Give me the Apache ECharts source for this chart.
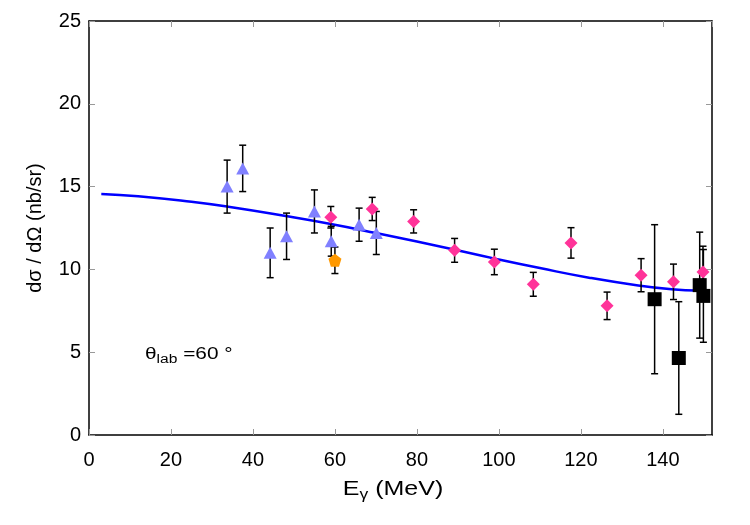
<!DOCTYPE html>
<html>
<head>
<meta charset="utf-8">
<script src="https://cdn.jsdelivr.net/npm/echarts@6.0.0/dist/echarts.min.js"></script>
<style>
  html, body { margin: 0; padding: 0; background: #fff; }
  #main { width: 750px; height: 525px; }
</style>
</head>
<body>
<div id="main"></div>
<script>
// triangles
var triX = [33.7, 37.5, 44.2, 48.2, 55.0, 59.1, 65.9, 70.1];
var triY = [15.0, 16.1, 11.0, 12.0, 13.5, 11.7, 12.7, 12.2];
var triErr = [1.6, 1.4, 1.5, 1.4, 1.3, 0.9, 1.0, 1.3];

// diamonds
var diaX = [59.0, 69.1, 79.2, 89.2, 98.9, 108.4, 117.6, 126.4, 134.7, 142.6, 149.8];
var diaY = [13.15, 13.65, 12.9, 11.15, 10.45, 9.1, 11.6, 7.8, 9.65, 9.25, 9.85];
var diaErr = [0.65, 0.7, 0.7, 0.72, 0.77, 0.72, 0.92, 0.83, 1.0, 1.07, 1.55];

// squares
var sqX = [138.0, 143.9, 149.0, 149.9];
var sqY = [8.2, 4.65, 9.05, 8.4];
var sqErr = [4.5, 3.4, 3.2, 2.8];

// pentagon
var pentX = [60.0];
var pentY = [10.55];
var pentErr = [0.8];

// fitted curve
var curveX = [3, 12, 25, 34, 48, 59, 70, 80, 89, 99, 110, 122, 134, 143, 148];
var curveY = [14.56, 14.42, 14.08, 13.78, 13.22, 12.74, 12.2, 11.68, 11.2, 10.65, 10.08, 9.5, 9.03, 8.78, 8.72];

var xTicks = [0, 20, 40, 60, 80, 100, 120, 140];
var yTicks = [0, 5, 10, 15, 20, 25];

function zip(xs, ys, es) {
  var out = [];
  for (var i = 0; i < xs.length; i++) {
    out.push(es ? [xs[i], ys[i], es[i]] : [xs[i], ys[i]]);
  }
  return out;
}

var font = 'Liberation Sans';

function errorBars(data) {
  return {
    type: 'custom',
    data: data,
    z: 3,
    renderItem: function (params, api) {
      var x = api.value(0), y = api.value(1), e = api.value(2);
      var top = api.coord([x, y + e]);
      var bot = api.coord([x, y - e]);
      var c = 3.5;
      var st = { stroke: '#000', lineWidth: 1.5 };
      return {
        type: 'group',
        children: [
          { type: 'line', shape: { x1: top[0], y1: top[1], x2: bot[0], y2: bot[1] }, style: st },
          { type: 'line', shape: { x1: top[0] - c, y1: top[1], x2: top[0] + c, y2: top[1] }, style: st },
          { type: 'line', shape: { x1: bot[0] - c, y1: bot[1], x2: bot[0] + c, y2: bot[1] }, style: st }
        ]
      };
    }
  };
}

function points(data, symbol, size, color) {
  return {
    type: 'scatter',
    data: data,
    symbol: symbol,
    symbolSize: size,
    itemStyle: { color: color, opacity: 1 },
    z: 4
  };
}

var tickStyle = { show: true, inside: true, length: 6, lineStyle: { color: '#999', width: 1 } };
var lineStyle = { show: true, onZero: false, lineStyle: { color: '#000', width: 1.5 } };

var chart = echarts.init(document.getElementById('main'));
var option = {
  animation: false,
  backgroundColor: '#fff',
  grid: { left: 89, right: 38, top: 21, bottom: 90 },
  xAxis: [
    {
      type: 'value', min: 0, max: 152, interval: 20, position: 'bottom',
      axisLine: lineStyle, axisTick: tickStyle, splitLine: { show: false },
      axisLabel: {
        margin: 15, fontSize: 20, fontFamily: font, color: '#000', showMaxLabel: false,
        formatter: function (v) { return xTicks.indexOf(v) >= 0 ? String(v) : ''; }
      }
    },
    {
      type: 'value', min: 0, max: 152, interval: 20, position: 'top',
      axisLine: lineStyle, axisTick: tickStyle, splitLine: { show: false },
      axisLabel: { show: false }
    }
  ],
  yAxis: [
    {
      type: 'value', min: 0, max: 25, interval: 5, position: 'left',
      axisLine: lineStyle, axisTick: tickStyle, splitLine: { show: false },
      axisLabel: {
        margin: 8, fontSize: 20, fontFamily: font, color: '#000',
        formatter: function (v) { return yTicks.indexOf(v) >= 0 ? String(v) : ''; }
      },
      name: 'dσ / dΩ (nb/sr)', nameLocation: 'middle', nameRotate: 90, nameGap: 44,
      nameTextStyle: { fontSize: 20, fontFamily: font, color: '#000' }
    },
    {
      type: 'value', min: 0, max: 25, interval: 5, position: 'right',
      axisLine: lineStyle, axisTick: tickStyle, splitLine: { show: false },
      axisLabel: { show: false }
    }
  ],
  graphic: [
    {
      type: 'text', x: 393, y: 489, scaleX: 1.25,
      style: {
        text: '{m|E}{s|γ}{m| (MeV)}', align: 'center', verticalAlign: 'middle',
        rich: {
          m: { fontSize: 20, fontFamily: font, fill: '#000' },
          s: { fontSize: 14, fontFamily: font, fill: '#000', padding: [12, 0, 0, 0] }
        }
      }
    },
    {
      type: 'text', x: 145, y: 355, scaleX: 1.3,
      style: {
        text: '{m|θ}{s|lab}{m| =60 °}', align: 'left', verticalAlign: 'middle',
        rich: {
          m: { fontSize: 16, fontFamily: font, fill: '#000' },
          s: { fontSize: 12, fontFamily: font, fill: '#000', padding: [9, 0, 0, 0] }
        }
      }
    }
  ],
  series: [
    {
      type: 'line', data: zip(curveX, curveY), smooth: true, showSymbol: false,
      lineStyle: { color: '#0000ff', width: 2.5 }, z: 2
    },
    errorBars(zip(triX, triY, triErr)),
    errorBars(zip(diaX, diaY, diaErr)),
    errorBars(zip(sqX, sqY, sqErr)),
    errorBars(zip(pentX, pentY, pentErr)),
    points(zip(triX, triY), 'triangle', [13, 12], '#8080ff'),
    points(zip(diaX, diaY), 'diamond', [13, 13], '#ff3399'),
    points(zip(sqX, sqY), 'rect', [14, 14], '#000'),
    points(zip(pentX, pentY), 'path://M0,-10 L9.5,-3.1 L5.9,8.1 L-5.9,8.1 L-9.5,-3.1 Z', [13, 13], '#ff9900')
  ]
};
chart.setOption(option);
</script>
</body>
</html>
